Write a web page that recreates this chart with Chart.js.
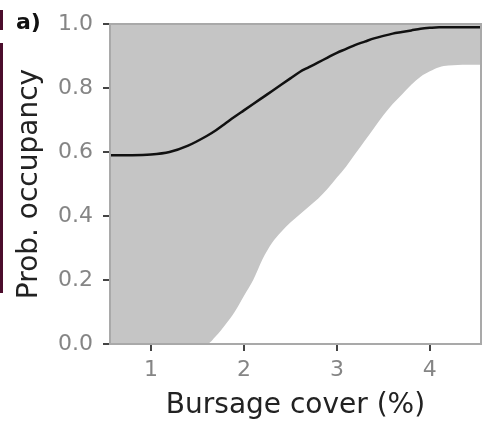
<!DOCTYPE html>
<html>
<head>
<meta charset="utf-8">
<script src="https://cdn.jsdelivr.net/npm/chart.js@4"></script>
<style>
  html, body { margin: 0; padding: 0; background: #fff; }
  #wrap { position: relative; width: 483px; height: 425px; }
  .edge { position: absolute; left: 0; width: 3px; background: #4b0d2c; }
</style>
</head>
<body>
<div id="wrap">
  <canvas id="myChart" width="483" height="425"></canvas>
  <div class="edge" style="top:10px;height:20px"></div>
  <div class="edge" style="top:43px;height:250px"></div>
</div>
<script>
// bursage cover (%) and fitted occupancy with its interval
const coverX = [0.56, 0.8, 1.0, 1.2, 1.4, 1.6, 1.7, 1.8, 1.9, 2.0, 2.1, 2.2, 2.3, 2.4, 2.5, 2.6, 2.7, 2.8, 2.9, 3.0,
  3.1, 3.2, 3.3, 3.4, 3.5, 3.6, 3.7, 3.8, 3.9, 4.0, 4.1, 4.2, 4.3, 4.4, 4.55];
const meanOcc = [0.59, 0.59, 0.592, 0.60, 0.62, 0.65, 0.668, 0.689, 0.71, 0.73, 0.75, 0.77, 0.79, 0.81, 0.83, 0.85,
  0.865, 0.88, 0.895, 0.91, 0.922, 0.935, 0.945, 0.955, 0.963, 0.97, 0.975, 0.98, 0.985, 0.988, 0.99, 0.99, 0.99, 0.99, 0.99];
const lowerOcc = [0, 0, 0, 0, 0, 0, 0.025, 0.06, 0.1, 0.15, 0.2, 0.265, 0.315, 0.35, 0.38, 0.405, 0.43, 0.455, 0.485,
  0.52, 0.555, 0.595, 0.635, 0.675, 0.715, 0.75, 0.78, 0.81, 0.835, 0.852, 0.865, 0.87, 0.872, 0.873, 0.873];
const upperOcc = [1, 1, 1, 1, 1, 1, 1, 1, 1, 1, 1, 1, 1, 1, 1, 1, 1, 1, 1, 1, 1, 1, 1, 1, 1, 1, 1, 1, 1, 1, 1, 1, 1, 1, 1];
const xTicks = [1, 2, 3, 4];
const yTicks = [0, 0.2, 0.4, 0.6, 0.8, 1.0];

const pts = (ys) => coverX.map((x, i) => ({ x: x, y: ys[i] }));

const frame = {
  id: 'frame',
  afterDatasetsDraw(chart) {
    const { ctx, chartArea: a } = chart;
    ctx.save();
    ctx.strokeStyle = '#a9a9a9';
    ctx.lineWidth = 2;
    ctx.strokeRect(a.left, a.top, a.right - a.left, a.bottom - a.top);
    ctx.restore();
  },
  afterDraw(chart) {
    const ctx = chart.ctx;
    ctx.save();
    ctx.fillStyle = '#111';
    ctx.font = 'bold 22px "DejaVu Sans"';
    ctx.textBaseline = 'middle';
    ctx.fillText('a)', 16, 23);
    ctx.restore();
  }
};

const ctx = document.getElementById('myChart');
new Chart(ctx, {
  type: 'line',
  data: {
    datasets: [
      {
        label: 'Mean',
        data: pts(meanOcc),
        borderColor: '#111',
        borderWidth: 2.5,
        pointRadius: 0,
        fill: false,
        cubicInterpolationMode: 'monotone'
      },
      {
        label: 'Lower',
        data: pts(lowerOcc),
        borderWidth: 0,
        borderColor: 'rgba(0,0,0,0)',
        backgroundColor: '#c5c5c5',
        pointRadius: 0,
        fill: '+1',
        cubicInterpolationMode: 'monotone'
      },
      {
        label: 'Upper',
        data: pts(upperOcc),
        borderWidth: 0,
        borderColor: 'rgba(0,0,0,0)',
        pointRadius: 0,
        fill: false
      }
    ]
  },
  options: {
    responsive: false,
    animation: false,
    layout: { padding: { top: 24, right: 2, left: 0, bottom: 0 } },
    plugins: {
      legend: { display: false },
      tooltip: { enabled: false }
    },
    scales: {
      x: {
        type: 'linear',
        min: 0.56,
        max: 4.55,
        afterBuildTicks: (axis) => { axis.ticks = xTicks.map(v => ({ value: v })); },
        afterFit: (axis) => { axis.height = 81; },
        border: { display: false },
        grid: { drawOnChartArea: false, drawTicks: true, tickLength: 7, tickColor: '#444', lineWidth: 2 },
        ticks: {
          color: '#858585',
          padding: 6,
          maxRotation: 0,
          font: { family: 'DejaVu Sans', size: 22 }
        },
        title: {
          display: true,
          text: 'Bursage cover (%)',
          color: '#222',
          padding: { top: 0, bottom: 2 },
          font: { family: 'DejaVu Sans', size: 28, lineHeight: 1.2 }
        }
      },
      y: {
        min: 0,
        max: 1,
        afterBuildTicks: (axis) => { axis.ticks = yTicks.map(v => ({ value: v })); },
        afterFit: (axis) => { axis.width = 110; },
        border: { display: false },
        grid: { drawOnChartArea: false, drawTicks: true, tickLength: 7, tickColor: '#444', lineWidth: 2 },
        ticks: {
          color: '#858585',
          padding: 10,
          font: { family: 'DejaVu Sans', size: 22 },
          callback: (v) => v.toFixed(1)
        },
        title: {
          display: true,
          text: 'Prob. occupancy',
          color: '#222',
          padding: { top: 13, bottom: 0 },
          font: { family: 'DejaVu Sans', size: 28, lineHeight: 1.2 }
        }
      }
    }
  },
  plugins: [frame]
});
</script>
</body>
</html>
